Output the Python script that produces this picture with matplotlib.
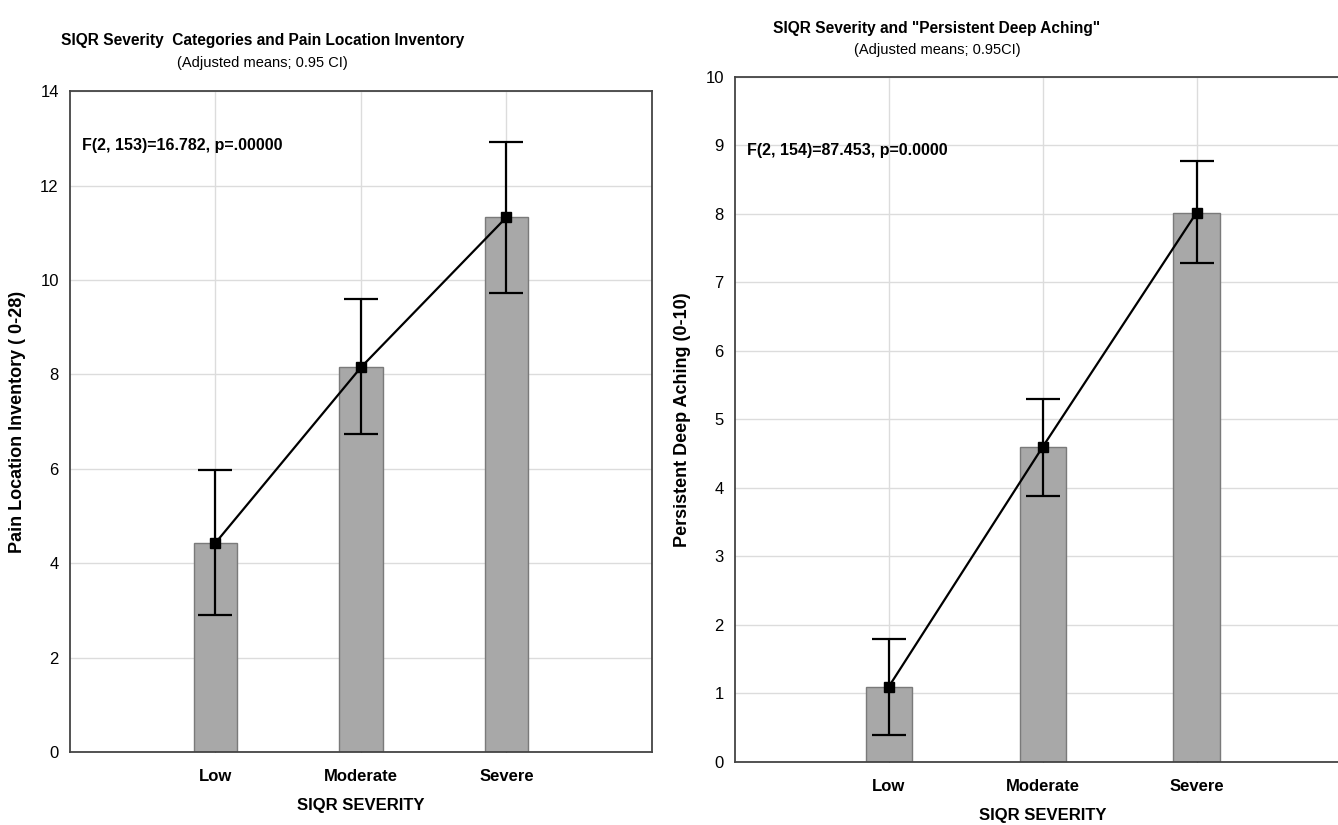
import matplotlib
matplotlib.use("Agg")
from matplotlib import pyplot as plt
import numpy as np

plt.rcParams['font.family'] = ['Liberation Sans', 'DejaVu Sans']

categories = ['Low', 'Moderate', 'Severe']

# left panel: pain location inventory
pain_mean = [4.43, 8.15, 11.33]
pain_lo = [2.90, 6.73, 9.73]
pain_hi = [5.98, 9.60, 12.93]

# right panel: persistent deep aching
ache_mean = [1.10, 4.60, 8.02]
ache_lo = [0.40, 3.88, 7.28]
ache_hi = [1.80, 5.30, 8.77]

bar_col = '#a8a8a8'
edge_col = '#7a7a7a'
spine_col = '#444444'


def draw_panel(ax, mean, lo, hi, ymax, ylabel, stat_text, stat_y):
    x = np.arange(1, len(categories) + 1)
    mean = np.array(mean)
    err = [mean - np.array(lo), np.array(hi) - mean]
    ax.bar(x, mean, width=0.3, color=bar_col, edgecolor=edge_col, linewidth=1, zorder=2)
    ax.errorbar(x, mean, yerr=err, fmt='none', ecolor='black', elinewidth=1.6,
                capsize=12, capthick=1.6, zorder=3)
    ax.plot(x, mean, color='black', lw=1.6, marker='s', ms=6.5, zorder=4)
    ax.set_xlim(0, 4)
    ax.set_ylim(0, ymax)
    ax.set_xticks(x)
    ax.set_xticklabels(categories, fontsize=12, fontweight='bold')
    ax.set_yticks(np.arange(0, ymax + 1, 2 if ymax > 10 else 1))
    ax.tick_params(axis='y', labelsize=12, direction='in', length=0, pad=8)
    ax.tick_params(axis='x', direction='in', length=4, color=spine_col, pad=12)
    ax.grid(True, color='#dcdcdc', lw=1, zorder=0)
    ax.set_axisbelow(True)
    for s in ax.spines.values():
        s.set_color(spine_col)
        s.set_linewidth(1.3)
    ax.set_xlabel('SIQR SEVERITY', fontsize=12, fontweight='bold', labelpad=10)
    ax.set_ylabel(ylabel, fontsize=13, fontweight='bold', labelpad=10)
    ax.text(0.08, stat_y, stat_text, fontsize=11.5, fontweight='bold', va='center')


fig = plt.figure(figsize=(13.38, 8.25), dpi=100)

ax1 = fig.add_axes([0.0523, 0.0885, 0.435, 0.801])
draw_panel(ax1, pain_mean, pain_lo, pain_hi, 14, 'Pain Location Inventory ( 0-28)',
           'F(2, 153)=16.782, p=.00000', 12.85)
fig.text(0.196, 1 - 40 / 825, 'SIQR Severity  Categories and Pain Location Inventory',
         ha='center', va='center', fontsize=11.2, fontweight='bold')
fig.text(0.196, 1 - 63 / 825, '(Adjusted means; 0.95 CI)',
         ha='center', va='center', fontsize=10.5)

ax2 = fig.add_axes([0.5493, 0.0764, 0.46, 0.8303])
draw_panel(ax2, ache_mean, ache_lo, ache_hi, 10, 'Persistent Deep Aching (0-10)',
           'F(2, 154)=87.453, p=0.0000', 8.93)
fig.text(0.7003, 1 - 28 / 825, 'SIQR Severity and "Persistent Deep Aching"',
         ha='center', va='center', fontsize=11.2, fontweight='bold')
fig.text(0.7003, 1 - 50 / 825, '(Adjusted means; 0.95CI)',
         ha='center', va='center', fontsize=10.5)

fig.savefig('out.png', dpi=100)
